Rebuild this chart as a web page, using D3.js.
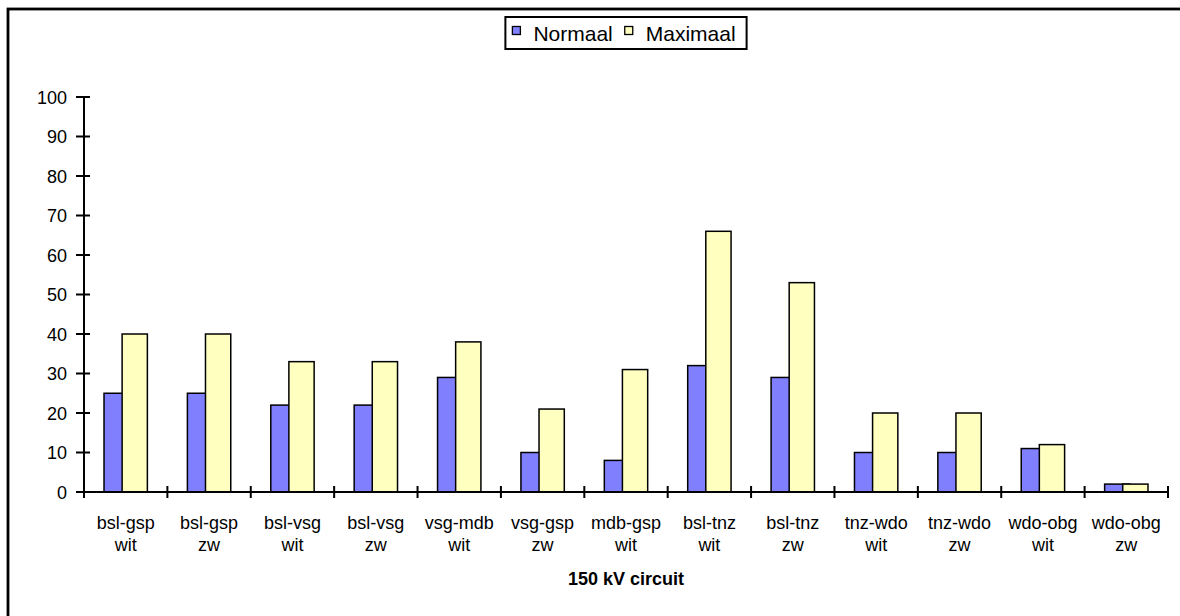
<!DOCTYPE html>
<html>
<head>
<meta charset="utf-8">
<script src="https://cdn.jsdelivr.net/npm/d3@7"></script>
<style>
  html, body { margin: 0; padding: 0; background: #fff; }
  svg { display: block; font-family: "Liberation Sans", Arial, sans-serif; }
</style>
</head>
<body>
<svg id="chart" width="1180" height="616"></svg>
<script>
// Circuit names (two-line labels: route / variant)
const circuits = [
  "bsl-gsp|wit", "bsl-gsp|zw", "bsl-vsg|wit", "bsl-vsg|zw", "vsg-mdb|wit",
  "vsg-gsp|zw", "mdb-gsp|wit", "bsl-tnz|wit", "bsl-tnz|zw", "tnz-wdo|wit",
  "tnz-wdo|zw", "wdo-obg|wit", "wdo-obg|zw"
];
const normaal  = [25, 25, 22, 22, 29, 10, 8, 32, 29, 10, 10, 11, 2];
const maximaal = [40, 40, 33, 33, 38, 21, 31, 66, 53, 20, 20, 12, 2];
const seriesNames = ["Normaal", "Maximaal"];
const yTicks = [0, 10, 20, 30, 40, 50, 60, 70, 80, 90, 100];
const xTitle = "150 kV circuit";

const colors = { Normaal: "#8080ff", Maximaal: "#ffffc0" };

const svg = d3.select("#chart");

// outer chart frame (runs off the right and bottom edges)
svg.append("rect")
  .attr("x", 8).attr("y", 9)
  .attr("width", 1200).attr("height", 640)
  .attr("fill", "none").attr("stroke", "#000").attr("stroke-width", 2.8);

const plot = { left: 84, right: 1168, top: 97, bottom: 492 };

const x = d3.scaleBand().domain(circuits).range([plot.left, plot.right]).padding(0);
const y = d3.scaleLinear().domain([0, 100]).range([plot.bottom, plot.top]);

const bw = x.bandwidth();
const groupW = bw * 0.52;
const barW = bw * 0.303;
const step2 = groupW - barW; // offset of second bar (bars overlap slightly)

const rows = circuits.map((c, i) => ({ c, n: normaal[i], m: maximaal[i] }));

const g = svg.append("g");

// Normaal bars
g.selectAll("rect.n").data(rows).join("rect")
  .attr("class", "n")
  .attr("x", d => x(d.c) + (bw - groupW) / 2)
  .attr("y", d => y(d.n))
  .attr("width", barW)
  .attr("height", d => y(0) - y(d.n))
  .attr("fill", colors.Normaal)
  .attr("stroke", "#000").attr("stroke-width", 1.5);

// Maximaal bars
g.selectAll("rect.m").data(rows).join("rect")
  .attr("class", "m")
  .attr("x", d => x(d.c) + (bw - groupW) / 2 + step2)
  .attr("y", d => y(d.m))
  .attr("width", barW)
  .attr("height", d => y(0) - y(d.m))
  .attr("fill", colors.Maximaal)
  .attr("stroke", "#000").attr("stroke-width", 1.5);

// Y axis
const yAxis = svg.append("g");
yAxis.append("line")
  .attr("x1", plot.left).attr("x2", plot.left)
  .attr("y1", y(100)).attr("y2", y(0))
  .attr("stroke", "#000").attr("stroke-width", 2);
yAxis.selectAll("line.tick").data(yTicks).join("line")
  .attr("class", "tick")
  .attr("x1", plot.left - 8).attr("x2", plot.left + 6)
  .attr("y1", d => y(d)).attr("y2", d => y(d))
  .attr("stroke", "#000").attr("stroke-width", 2);
yAxis.selectAll("text").data(yTicks).join("text")
  .attr("x", plot.left - 17)
  .attr("y", d => y(d) + 6.5)
  .attr("text-anchor", "end")
  .attr("font-size", 18)
  .text(d => d);

// X axis
const xAxis = svg.append("g");
xAxis.append("line")
  .attr("x1", plot.left).attr("x2", plot.right)
  .attr("y1", y(0)).attr("y2", y(0))
  .attr("stroke", "#000").attr("stroke-width", 2);
const bounds = circuits.map(c => x(c)).concat([plot.right]);
xAxis.selectAll("line.tick").data(bounds).join("line")
  .attr("class", "tick")
  .attr("x1", d => d).attr("x2", d => d)
  .attr("y1", y(0) - 6).attr("y2", y(0) + 6)
  .attr("stroke", "#000").attr("stroke-width", 2);

const labels = xAxis.selectAll("text.cat").data(circuits).join("text")
  .attr("class", "cat")
  .attr("text-anchor", "middle")
  .attr("font-size", 18);
labels.each(function (d) {
  const parts = d.split("|");
  const t = d3.select(this);
  const cx = x(d) + bw / 2;
  t.append("tspan").attr("x", cx).attr("y", 529).text(parts[0]);
  t.append("tspan").attr("x", cx).attr("y", 551).text(parts[1]);
});

svg.append("text")
  .attr("x", (plot.left + plot.right) / 2)
  .attr("y", 585)
  .attr("text-anchor", "middle")
  .attr("font-size", 18)
  .attr("font-weight", "bold")
  .text(xTitle);

// Legend
const legend = svg.append("g");
const lgBox = legend.append("rect")
  .attr("fill", "#fff").attr("stroke", "#000").attr("stroke-width", 2);
let cursor = 0;
const items = [];
seriesNames.forEach((s, i) => {
  const it = legend.append("g");
  it.append("rect")
    .attr("x", cursor).attr("y", -14.5).attr("width", 8).attr("height", 8)
    .attr("fill", colors[s]).attr("stroke", "#000").attr("stroke-width", 1.3);
  const tx = it.append("text")
    .attr("x", cursor + 21).attr("y", 0)
    .attr("font-size", 21)
    .text(s);
  cursor += 21 + tx.node().getComputedTextLength() + 12;
  items.push(it);
});
const legendW = cursor - 12;
const padX = 7;
const boxW = legendW + padX * 2 + 4;
const boxX = (plot.left + plot.right) / 2 - boxW / 2;
lgBox.attr("x", boxX).attr("y", 17).attr("width", boxW).attr("height", 32);
items.forEach(it => it.attr("transform", `translate(${boxX + padX},${41})`));
</script>
</body>
</html>
